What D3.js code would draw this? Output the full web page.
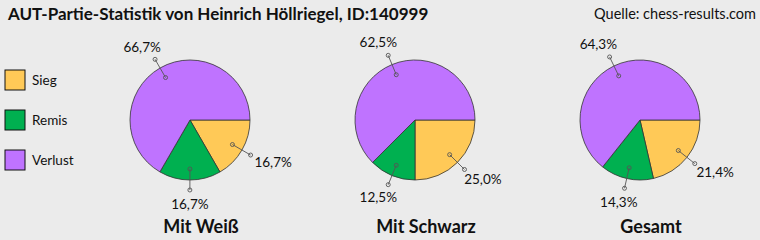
<!DOCTYPE html>
<html>
<head>
<meta charset="utf-8">
<script src="https://cdn.jsdelivr.net/npm/d3@7"></script>
<style>
  body { margin: 0; background: #ebebeb; }
  svg { display: block; font-family: Lato, "Liberation Sans", sans-serif; }
</style>
</head>
<body>
<svg id="chart" width="760" height="240"></svg>
<script>
// chart data
var categories = ["Sieg", "Remis", "Verlust"];
var groups = ["Mit Weiß", "Mit Schwarz", "Gesamt"];
var pctWeiss = [16.7, 16.7, 66.7];
var pctSchwarz = [25.0, 12.5, 62.5];
var pctGesamt = [21.4, 14.3, 64.3];
var series = [pctWeiss, pctSchwarz, pctGesamt];
var colors = ["#ffc957", "#00b050", "#bf73ff"];

var title = "AUT-Partie-Statistik von Heinrich Höllriegel, ID:140999";
var source = "Quelle: chess-results.com";

var svg = d3.select("#chart");
var W = 760, H = 240;
var R = 60;

var x = d3.scalePoint().domain(groups).range([190, 640]);
var color = d3.scaleOrdinal().domain(categories).range(colors);
var fmt = function(v) { return d3.format(".1f")(v).replace(".", ",") + "%"; };

svg.append("rect").attr("width", W).attr("height", H).attr("fill", "#ebebeb");

svg.append("text")
  .attr("x", 8).attr("y", 20)
  .attr("font-size", 17).attr("font-weight", "bold").attr("fill", "#111")
  .text(title);

svg.append("text")
  .attr("x", 756).attr("y", 19).attr("text-anchor", "end")
  .attr("font-size", 14.5).attr("fill", "#111")
  .text(source);

// legend
var leg = svg.append("g").selectAll("g").data(categories).enter().append("g")
  .attr("transform", function(d, i) { return "translate(5," + (70 + i * 40) + ")"; });
leg.append("rect").attr("width", 20).attr("height", 20)
  .attr("fill", function(d) { return color(d); })
  .attr("stroke", "#111").attr("stroke-width", 1);
leg.append("text").attr("x", 27).attr("y", 10).attr("dy", "0.35em")
  .attr("font-size", 13.5).attr("fill", "#111")
  .text(function(d) { return d; });

var pie = d3.pie().sort(null).startAngle(Math.PI / 2).endAngle(Math.PI / 2 + 2 * Math.PI);
var arc = d3.arc().innerRadius(0).outerRadius(R);

groups.forEach(function(g, gi) {
  var cx = x(g), cy = 120;
  var data = pie(series[gi]);
  var pg = svg.append("g").attr("transform", "translate(" + cx + "," + cy + ")");

  pg.selectAll("path").data(data).enter().append("path")
    .attr("d", arc)
    .attr("fill", function(d, i) { return colors[i]; })
    .attr("stroke", "#333").attr("stroke-width", 0.8);

  data.forEach(function(d) {
    var a = (d.startAngle + d.endAngle) / 2;
    var sx = Math.sin(a), sy = -Math.cos(a);
    var p1 = [sx * 49, sy * 49], p2 = [sx * 70, sy * 70];
    pg.append("line")
      .attr("x1", p1[0]).attr("y1", p1[1]).attr("x2", p2[0]).attr("y2", p2[1])
      .attr("stroke", "#555").attr("stroke-width", 0.9);
    [p1, p2].forEach(function(p) {
      pg.append("circle").attr("cx", p[0]).attr("cy", p[1]).attr("r", 2)
        .attr("fill", "none").attr("stroke", "#555").attr("stroke-width", 0.9);
    });
    pg.append("text")
      .attr("x", p2[0] + sx * 26).attr("y", p2[1] + sy * 14)
      .attr("text-anchor", "middle").attr("dy", "0.35em")
      .attr("font-size", 13.5).attr("fill", "#111")
      .text(fmt(d.data));
  });

  svg.append("text")
    .attr("x", cx + 11).attr("y", 233).attr("text-anchor", "middle")
    .attr("font-size", 18).attr("font-weight", "bold").attr("fill", "#111")
    .text(g);
});
</script>
</body>
</html>
